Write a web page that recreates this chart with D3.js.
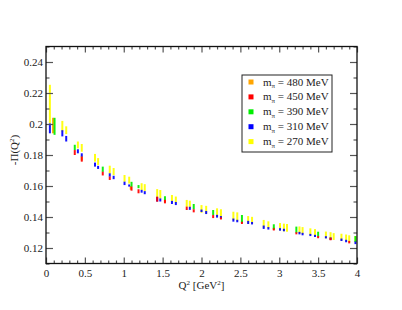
<!DOCTYPE html>
<html><head><meta charset="utf-8">
<script src="https://cdn.jsdelivr.net/npm/d3@7"></script>
<style>body{margin:0;background:#fff}svg{display:block}text{font-family:"Liberation Serif","DejaVu Serif",serif;fill:#222}</style>
</head><body><svg id="c" width="402" height="310"></svg>
<script>
// ---- data (Q^2 in GeV^2, value, error half-width) ----
const seriesLabels = ["480", "450", "390", "310", "270"];
const seriesColors = ["#ffa500", "#ff0000", "#00ee00", "#0000ff", "#ffff00"];

const q270 = [0.05,0.21,0.26,0.41,0.46,0.63,0.67,0.82,0.87,1.01,1.07,1.23,1.27,1.43,1.47,1.62,1.67,1.81,1.85,2.0,2.06,2.2,2.25,2.41,2.46,2.6,2.65,2.8,2.86,3.01,3.06,3.1,3.26,3.3,3.4,3.46,3.6,3.66,3.7,3.8,3.86,3.9,3.98];
const v270 = [0.2129,0.1985,0.1960,0.1865,0.1846,0.1782,0.1758,0.1706,0.1693,0.1649,0.1638,0.1596,0.1590,0.1555,0.1547,0.1520,0.1510,0.1488,0.1483,0.1452,0.1447,0.1429,0.1424,0.1407,0.1402,0.1382,0.1378,0.1356,0.1350,0.1337,0.1332,0.1330,0.1317,0.1313,0.1305,0.1300,0.1284,0.1280,0.1274,0.1270,0.1265,0.1260,0.1257];
const e270 = [0.0124,0.0035,0.0025,0.0022,0.0025,0.0025,0.0022,0.0025,0.0023,0.0022,0.0022,0.0022,0.0022,0.0025,0.0027,0.0022,0.0022,0.0022,0.0022,0.0025,0.0025,0.0027,0.0026,0.0027,0.0028,0.0024,0.0023,0.0025,0.0022,0.0024,0.0025,0.0025,0.0022,0.0022,0.0022,0.0022,0.0022,0.0022,0.0022,0.0022,0.0022,0.0022,0.0020];

const q310 = [0.05,0.21,0.26,0.41,0.46,0.63,0.67,0.82,0.87,1.01,1.07,1.23,1.27,1.43,1.47,1.62,1.67,1.85,2.0,2.06,2.2,2.25,2.41,2.46,2.6,2.65,2.8,2.86,3.01,3.06,3.26,3.3,3.4,3.46,3.6,3.66,3.8,3.86,3.98];
const v310 = [0.1972,0.1940,0.1905,0.1824,0.1800,0.1738,0.1720,0.1671,0.1655,0.1617,0.1603,0.1566,0.1557,0.1515,0.1510,0.1494,0.1487,0.1456,0.1440,0.1429,0.1405,0.1398,0.1380,0.1374,0.1365,0.1360,0.1334,0.1327,0.1320,0.1316,0.1296,0.1290,0.1284,0.1278,0.1269,0.1260,0.1253,0.1245,0.1235];
const e310 = [0.0032,0.0020,0.0018,0.0013,0.0011,0.0013,0.0010,0.0011,0.0011,0.0011,0.0007,0.0009,0.0010,0.0015,0.0010,0.0010,0.0010,0.0010,0.0008,0.0010,0.0009,0.0008,0.0010,0.0008,0.0010,0.0008,0.0011,0.0008,0.0008,0.0008,0.0008,0.0008,0.0007,0.0007,0.0007,0.0008,0.0008,0.0008,0.0010];

const q390 = [0.11,0.37,0.73,1.10,1.19,1.53,1.90,2.15,2.52,2.93,3.22,3.50,3.98];
const v390 = [0.1985,0.1849,0.1708,0.1611,0.1596,0.1522,0.1467,0.1429,0.1388,0.1337,0.1318,0.1289,0.1259];
const e390 = [0.0055,0.0017,0.0017,0.0016,0.0010,0.0012,0.0017,0.0016,0.0025,0.0016,0.0020,0.0016,0.0018];

const q450 = [0.37,0.46,0.73,0.82,1.10,1.19,1.43,1.53,1.81,1.90,2.15,2.25,2.52,2.93,3.22,3.50,3.66,3.90];
const v450 = [0.1816,0.1773,0.1680,0.1650,0.1583,0.1566,0.1515,0.1499,0.1456,0.1440,0.1403,0.1391,0.1362,0.1320,0.1295,0.1270,0.1258,0.1238];
const e450 = [0.0016,0.0016,0.0012,0.0011,0.0013,0.0013,0.0016,0.0011,0.0011,0.0010,0.0010,0.0007,0.0007,0.0007,0.0007,0.0007,0.0008,0.0008];

const q480 = [0.09,0.46,1.09,1.53,2.52,2.93,3.66];
const v480 = [0.1990,0.1780,0.1588,0.1505,0.1368,0.1325,0.1262];
const e480 = [0.0050,0.0015,0.0012,0.0010,0.0008,0.0008,0.0008];

const xTicks = [0,0.5,1,1.5,2,2.5,3,3.5,4];
const yTicks = [0.12,0.14,0.16,0.18,0.2,0.22,0.24];

// ---- layout ----
const svg = d3.select("#c");
const L = 46, R = 357, T = 46.5, B = 263.5;
const x = d3.scaleLinear().domain([0,4]).range([L,R]);
const y = d3.scaleLinear().domain([0.11,0.25]).range([B,T]);
const fmt = v => String(+v.toFixed(2));

// data marks
const series = [
  {q:q480,v:v480,e:e480,c:seriesColors[0]},
  {q:q270,v:v270,e:e270,c:seriesColors[4]},
  {q:q310,v:v310,e:e310,c:seriesColors[3]},
  {q:q390,v:v390,e:e390,c:seriesColors[2]},
  {q:q450,v:v450,e:e450,c:seriesColors[1]}
];
const gData = svg.append("g");
series.forEach(s => {
  gData.selectAll(null).data(s.q.map((q,i)=>({q, v:s.v[i], e:s.e[i]}))).enter()
    .append("line")
    .attr("x1", d=>x(d.q)).attr("x2", d=>x(d.q))
    .attr("y1", d=>y(d.v-d.e)).attr("y2", d=>y(d.v+d.e))
    .attr("stroke", s.c).attr("stroke-width", 2).attr("opacity", 0.92);
});

// axes (ticks inward, mirrored)
const tickCol = "#555";
function styleAxis(g){ g.select(".domain").remove(); g.selectAll("line").attr("stroke",tickCol).attr("stroke-width",1.2); g.selectAll("text").attr("font-size","11px").attr("font-family","Liberation Serif, serif").attr("fill","#222"); }
const xMinor = d3.range(0,4.0001,0.1).map(v=>+v.toFixed(2)).filter(v=>!xTicks.includes(v));
const yMinor = d3.range(0.11,0.2501,0.01).map(v=>+v.toFixed(2)).filter(v=>!yTicks.includes(v));

svg.append("g").attr("transform",`translate(0,${B})`).call(d3.axisBottom(x).tickValues(xTicks).tickFormat(fmt).tickSizeInner(-6).tickSizeOuter(0).tickPadding(6)).call(styleAxis);
svg.append("g").attr("transform",`translate(0,${B})`).call(d3.axisBottom(x).tickValues(xMinor).tickFormat("").tickSizeInner(-3).tickSizeOuter(0)).call(styleAxis);
svg.append("g").attr("transform",`translate(0,${T})`).call(d3.axisTop(x).tickValues(xTicks).tickFormat("").tickSizeInner(-6).tickSizeOuter(0)).call(styleAxis);
svg.append("g").attr("transform",`translate(0,${T})`).call(d3.axisTop(x).tickValues(xMinor).tickFormat("").tickSizeInner(-3).tickSizeOuter(0)).call(styleAxis);
svg.append("g").attr("transform",`translate(${L},0)`).call(d3.axisLeft(y).tickValues(yTicks).tickFormat(fmt).tickSizeInner(-7).tickSizeOuter(0).tickPadding(3)).call(styleAxis);
svg.append("g").attr("transform",`translate(${L},0)`).call(d3.axisLeft(y).tickValues(yMinor).tickFormat("").tickSizeInner(-3.5).tickSizeOuter(0)).call(styleAxis);
svg.append("g").attr("transform",`translate(${R},0)`).call(d3.axisRight(y).tickValues(yTicks).tickFormat("").tickSizeInner(-7).tickSizeOuter(0)).call(styleAxis);
svg.append("g").attr("transform",`translate(${R},0)`).call(d3.axisRight(y).tickValues(yMinor).tickFormat("").tickSizeInner(-3.5).tickSizeOuter(0)).call(styleAxis);

// frame
svg.append("rect").attr("x",L).attr("y",T).attr("width",R-L).attr("height",B-T)
  .attr("fill","none").attr("stroke","#111").attr("stroke-width",1.3);

// axis titles
const xt = svg.append("text").attr("x",(L+R)/2).attr("y",289).attr("text-anchor","middle").attr("font-size","11px");
xt.append("tspan").text("Q");
xt.append("tspan").attr("dy",-4).attr("font-size","7px").text("2");
xt.append("tspan").attr("dy",4).text(" [GeV");
xt.append("tspan").attr("dy",-4).attr("font-size","7px").text("2");
xt.append("tspan").attr("dy",4).text("]");

const yt = svg.append("text").attr("transform",`translate(18,150) rotate(-90)`).attr("text-anchor","middle").attr("font-size","11px");
yt.append("tspan").text("-Π(Q");
yt.append("tspan").attr("dy",-4).attr("font-size","7px").text("2");
yt.append("tspan").attr("dy",4).text(")");

// legend
const lg = svg.append("g");
lg.append("rect").attr("x",242).attr("y",75).attr("width",90).attr("height",77)
  .attr("fill","#fff").attr("stroke","#222").attr("stroke-width",1);
seriesLabels.forEach((lab,i)=>{
  const cy = 82 + i*14.9;
  lg.append("rect").attr("x",248.5).attr("y",cy-2.5).attr("width",5).attr("height",5).attr("fill",seriesColors[i]);
  const t = lg.append("text").attr("x",263).attr("y",cy+3.5).attr("font-size","11px");
  t.append("tspan").text("m");
  t.append("tspan").attr("dy",2.5).attr("font-size","7px").text("π");
  t.append("tspan").attr("dy",-2.5).text(" = " + lab + " MeV");
});
</script></body></html>
